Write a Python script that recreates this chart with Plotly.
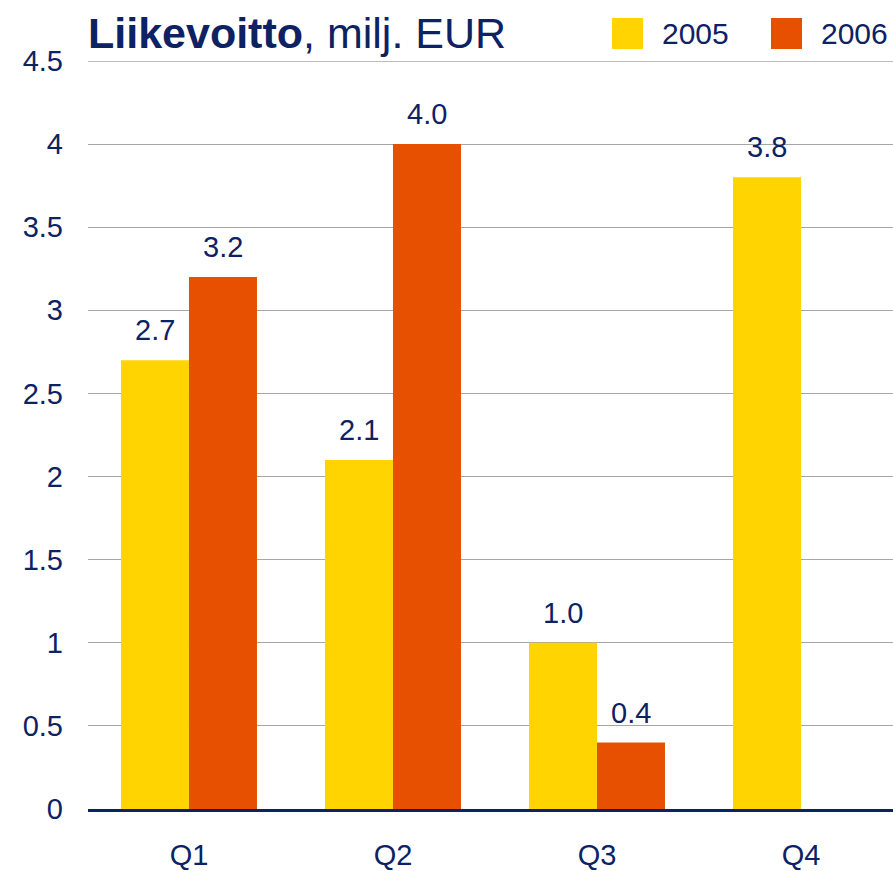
import plotly.graph_objects as go

categories = ["Q1", "Q2", "Q3", "Q4"]
values_2005 = [2.7, 2.1, 1.0, 3.8]
values_2006 = [3.2, 4.0, 0.4, None]
series_names = ["2005", "2006"]
labels_2005 = ["2.7", "2.1", "1.0", "3.8"]
labels_2006 = ["3.2", "4.0", "0.4", ""]
y_ticks = [0, 0.5, 1, 1.5, 2, 2.5, 3, 3.5, 4, 4.5]
y_ticktext = ["0", "0.5", "1", "1.5", "2", "2.5", "3", "3.5", "4", "4.5"]

NAVY = "#0d2263"
YELLOW = "#FFD400"
ORANGE = "#E65000"
GRID = "#a6a6a6"
FONT = "Liberation Sans, Arial, sans-serif"

fig = go.Figure()
fig.add_trace(go.Bar(x=categories, y=values_2005, name=series_names[0],
                     marker=dict(color=YELLOW, line=dict(width=0))))
fig.add_trace(go.Bar(x=categories, y=values_2006, name=series_names[1],
                     marker=dict(color=ORANGE, line=dict(width=0))))

# value labels
for vals, labs, shift in [(values_2005, labels_2005, -34), (values_2006, labels_2006, 34)]:
    for c, v, t in zip(categories, vals, labs):
        if v is None or t == "":
            continue
        fig.add_annotation(x=c, y=v, text=t, showarrow=False, xshift=shift,
                           yanchor="bottom", yshift=12,
                           font=dict(family=FONT, size=29, color=NAVY))

# title
fig.add_annotation(xref="paper", yref="paper", x=0, y=1, xanchor="left", yanchor="bottom",
                   yshift=2, xshift=-2,
                   text="<b>Liikevoitto</b>, milj. EUR", showarrow=False,
                   font=dict(family=FONT, size=43, color=NAVY))

# top gridline at the range edge
fig.add_shape(type="line", xref="paper", yref="y", x0=0, x1=1,
              y0=y_ticks[-1], y1=y_ticks[-1], line=dict(color=GRID, width=1.5), layer="below")

# custom legend
W, H = 893, 871
L, R, T, B = 88, 0, 61, 62
pw = W - L - R
ph = H - T - B
def px_x(x):
    return (x - L) / pw
def px_y(y):
    return (H - B - y) / ph

for name, col, x0 in [(series_names[0], YELLOW, 612), (series_names[1], ORANGE, 771)]:
    fig.add_shape(type="rect", xref="paper", yref="paper",
                  x0=px_x(x0), x1=px_x(x0 + 31), y0=px_y(49), y1=px_y(18),
                  fillcolor=col, line=dict(width=0))
    fig.add_annotation(xref="paper", yref="paper", x=px_x(x0 + 48), y=px_y(34),
                       xanchor="left", yanchor="middle", text=name, showarrow=False,
                       font=dict(family=FONT, size=30, color=NAVY))

fig.update_layout(
    width=W, height=H,
    margin=dict(l=L, r=R, t=T, b=B, pad=0),
    paper_bgcolor="white", plot_bgcolor="white",
    barmode="group", bargap=1/3, bargroupgap=0,
    showlegend=False,
    font=dict(family=FONT, color=NAVY),
    xaxis=dict(range=[-0.495, 3.451], showgrid=False, showline=True,
               linecolor=NAVY, linewidth=2.5, ticks="", zeroline=False,
               tickfont=dict(family=FONT, size=29, color=NAVY),
               ticklabelstandoff=18),
    yaxis=dict(range=[0, 4.5], tickvals=y_ticks, ticktext=y_ticktext,
               showgrid=True, gridcolor=GRID, gridwidth=1,
               zeroline=False, showline=False, ticks="",
               tickfont=dict(family=FONT, size=29, color=NAVY),
               ticklabelstandoff=24),
)

fig.write_html("out.html", config={"displayModeBar": False},
               post_script="document.body.style.margin='0';document.body.style.overflow='hidden';")
